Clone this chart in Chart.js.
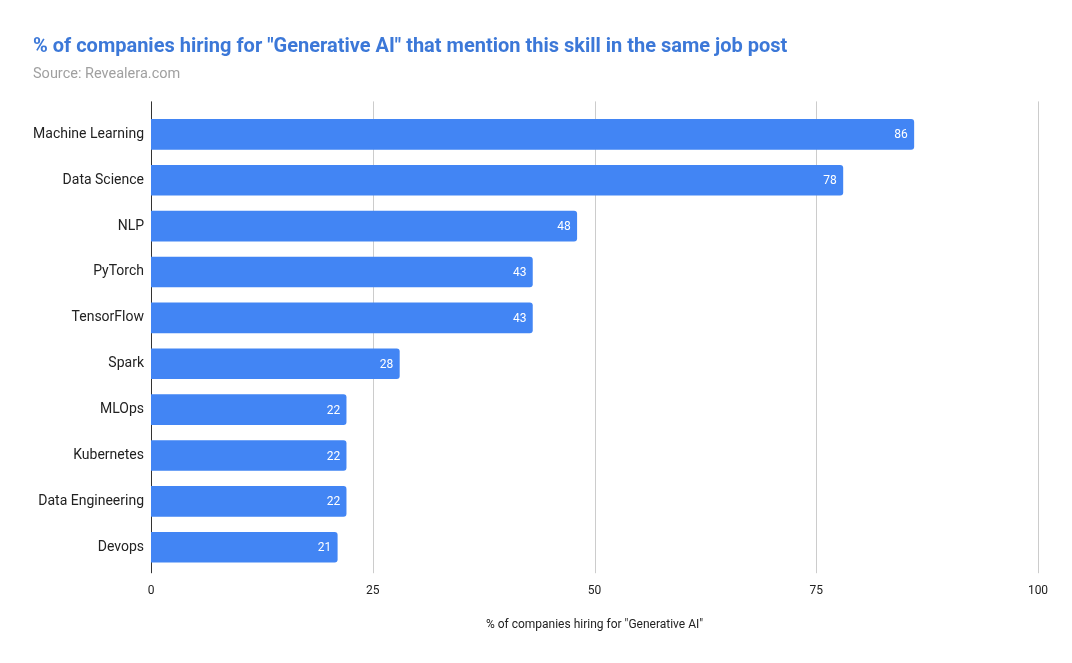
<!DOCTYPE html>
<html>
<head>
<meta charset="utf-8">
<script src="https://cdn.jsdelivr.net/npm/chart.js@4"></script>
<style>
html,body{margin:0;padding:0;background:#fff;}
#wrap{width:1072px;height:663px;position:relative;}
</style>
</head>
<body>
<div id="wrap"><canvas id="c"></canvas></div>
<script>
const categories = ["Machine Learning","Data Science","NLP","PyTorch","TensorFlow","Spark","MLOps","Kubernetes","Data Engineering","Devops"];
const values = [86,78,48,43,43,28,22,22,22,21];
const xTicks = [0,25,50,75,100];
const titleText = '% of companies hiring for "Generative AI" that mention this skill in the same job post';
const subtitleText = 'Source: Revealera.com';
const xAxisTitle = '% of companies hiring for "Generative AI"';

const gridPlugin = {
  id: 'gridPlugin',
  beforeDatasetsDraw(chart) {
    const ctx = chart.ctx, area = chart.chartArea, xs = chart.scales.x;
    ctx.save();
    xTicks.forEach(v => {
      const x = Math.round(xs.getPixelForValue(v)) + 0.5;
      ctx.beginPath();
      ctx.strokeStyle = v === 0 ? '#333333' : '#cccccc';
      ctx.lineWidth = 1;
      ctx.moveTo(x, area.top - 10);
      ctx.lineTo(x, area.bottom + 3);
      ctx.stroke();
    });
    ctx.restore();
  }
};

const labelPlugin = {
  id: 'labelPlugin',
  afterDatasetsDraw(chart) {
    const ctx = chart.ctx;
    const meta = chart.getDatasetMeta(0);
    ctx.save();
    ctx.font = '12px Roboto';
    ctx.fillStyle = '#ffffff';
    ctx.textAlign = 'right';
    ctx.textBaseline = 'middle';
    meta.data.forEach((bar, i) => {
      ctx.fillText(String(values[i]), bar.x - 6, bar.y + 1);
    });
    ctx.restore();
  }
};

new Chart(document.getElementById('c'), {
  type: 'bar',
  data: {
    labels: categories,
    datasets: [{
      data: values,
      backgroundColor: '#4285f4',
      barThickness: 30,
      borderRadius: 3,
      borderSkipped: 'start'
    }]
  },
  plugins: [gridPlugin, labelPlugin],
  options: {
    indexAxis: 'y',
    responsive: true,
    maintainAspectRatio: false,
    animation: false,
    devicePixelRatio: 1,
    layout: { padding: { left: 33, right: 34, top: 0, bottom: 31 } },
    plugins: {
      legend: { display: false },
      tooltip: { enabled: false },
      title: {
        display: true, text: titleText, align: 'start',
        color: '#3c78d8',
        font: { family: 'Roboto', size: 20, weight: 'bold', lineHeight: 1.2 },
        padding: { top: 35, bottom: 0 }
      },
      subtitle: {
        display: true, text: subtitleText, align: 'start',
        color: '#a0a0a0',
        font: { family: 'Roboto', size: 14.5, lineHeight: 1.2 },
        padding: { top: 7, bottom: 28 }
      }
    },
    scales: {
      x: {
        min: 0, max: 100,
        afterBuildTicks(scale) { scale.ticks = xTicks.map(v => ({ value: v })); },
        grid: { display: false, drawTicks: false },
        border: { display: false },
        ticks: { color: '#222222', font: { family: 'Roboto', size: 12 }, padding: 14, maxRotation: 0 },
        title: {
          display: true, text: xAxisTitle, color: '#222222',
          font: { family: 'Roboto', size: 12 },
          padding: { top: 5, bottom: 0 }
        }
      },
      y: {
        grid: { display: false, drawTicks: false },
        border: { display: false },
        afterFit(scale) { scale.width = 118; },
        ticks: { color: '#222222', font: { family: 'Roboto', size: 14 }, padding: 7, autoSkip: false }
      }
    }
  }
});
</script>
</body>
</html>
